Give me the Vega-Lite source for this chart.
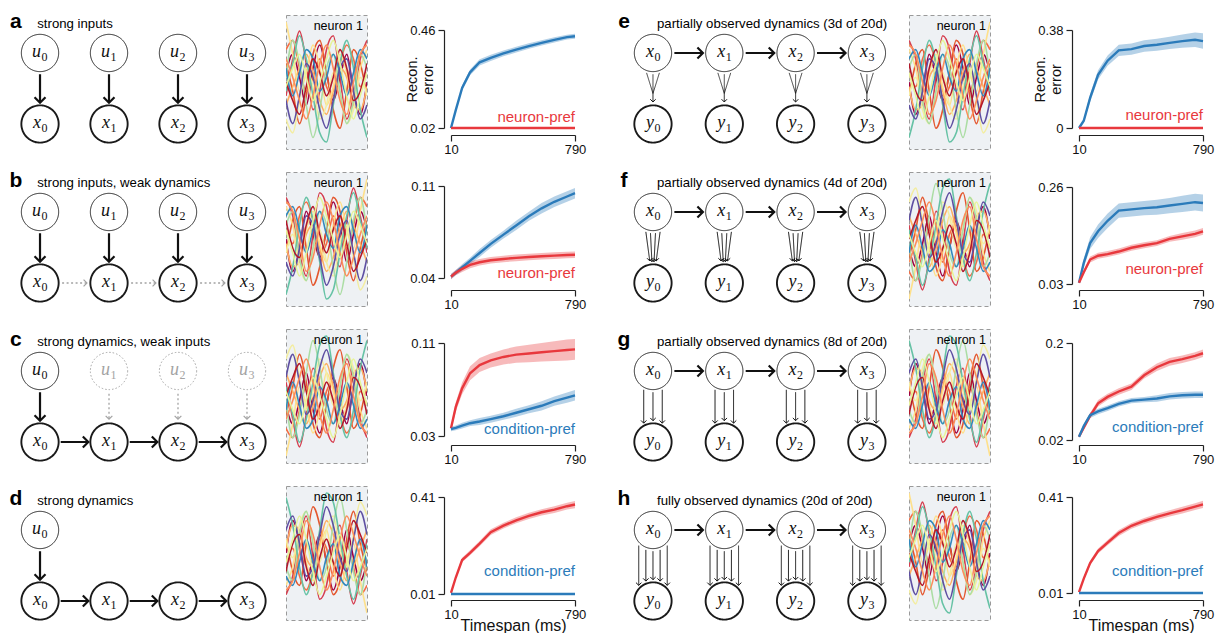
{
"$schema":"https://vega.github.io/schema/vega-lite/v6.json",
"padding":{"left":0,"top":11,"right":5,"bottom":0},
"spacing":14,
"resolve":{"scale":{"color":"independent","stroke":"independent","strokeWidth":"independent","strokeDash":"independent","size":"independent","shape":"independent"}},
"config":{"font":"Liberation Sans","view":{"stroke":null},"legend":{"disable":true},
"axis":{"grid":false,"domainColor":"#222","tickColor":"#222","labelColor":"#111","labelFontSize":13,"titleFontSize":14.5,"titleFontWeight":"normal","titleColor":"#111","tickSize":6,"domainWidth":1.2,"tickWidth":1.2,"labelPadding":2,"labelFlush":false},
"axisY":{"labelPadding":3,"titleLineHeight":16,"titlePadding":4}},
"datasets":{
"labels":[{"panel":"a","series":"neuron","label":"neuron-pref"},{"panel":"b","series":"neuron","label":"neuron-pref"},{"panel":"c","series":"cond","label":"condition-pref"},{"panel":"d","series":"cond","label":"condition-pref"},{"panel":"e","series":"neuron","label":"neuron-pref"},{"panel":"f","series":"neuron","label":"neuron-pref"},{"panel":"g","series":"cond","label":"condition-pref"},{"panel":"h","series":"cond","label":"condition-pref"}],
"curves":[
{"panel":"a","series":"cond","t":10,"m":0.02,"lo":0.017,"hi":0.023},{"panel":"a","series":"cond","t":40,"m":0.10,"lo":0.092,"hi":0.108},{"panel":"a","series":"cond","t":80,"m":0.20,"lo":0.188,"hi":0.212},{"panel":"a","series":"cond","t":130,"m":0.27,"lo":0.257,"hi":0.283},{"panel":"a","series":"cond","t":190,"m":0.315,"lo":0.301,"hi":0.329},{"panel":"a","series":"cond","t":260,"m":0.335,"lo":0.321,"hi":0.349},{"panel":"a","series":"cond","t":340,"m":0.355,"lo":0.342,"hi":0.368},{"panel":"a","series":"cond","t":420,"m":0.372,"lo":0.359,"hi":0.385},{"panel":"a","series":"cond","t":500,"m":0.388,"lo":0.376,"hi":0.4},{"panel":"a","series":"cond","t":580,"m":0.402,"lo":0.39,"hi":0.414},{"panel":"a","series":"cond","t":660,"m":0.416,"lo":0.404,"hi":0.428},{"panel":"a","series":"cond","t":740,"m":0.428,"lo":0.417,"hi":0.439},{"panel":"a","series":"cond","t":790,"m":0.432,"lo":0.421,"hi":0.443},
{"panel":"a","series":"neuron","t":10,"m":0.02,"lo":0.02,"hi":0.0215},{"panel":"a","series":"neuron","t":200,"m":0.02,"lo":0.02,"hi":0.0215},{"panel":"a","series":"neuron","t":400,"m":0.02,"lo":0.02,"hi":0.0215},{"panel":"a","series":"neuron","t":600,"m":0.02,"lo":0.02,"hi":0.0215},{"panel":"a","series":"neuron","t":790,"m":0.02,"lo":0.02,"hi":0.0215},
{"panel":"b","series":"cond","t":10,"m":0.041,"lo":0.039,"hi":0.043},{"panel":"b","series":"cond","t":40,"m":0.044,"lo":0.042,"hi":0.046},{"panel":"b","series":"cond","t":80,"m":0.048,"lo":0.0455,"hi":0.0505},{"panel":"b","series":"cond","t":130,"m":0.053,"lo":0.0505,"hi":0.0555},{"panel":"b","series":"cond","t":190,"m":0.059,"lo":0.056,"hi":0.062},{"panel":"b","series":"cond","t":260,"m":0.066,"lo":0.063,"hi":0.069},{"panel":"b","series":"cond","t":340,"m":0.073,"lo":0.07,"hi":0.076},{"panel":"b","series":"cond","t":420,"m":0.080,"lo":0.0765,"hi":0.0835},{"panel":"b","series":"cond","t":500,"m":0.087,"lo":0.0835,"hi":0.0905},{"panel":"b","series":"cond","t":580,"m":0.093,"lo":0.089,"hi":0.097},{"panel":"b","series":"cond","t":660,"m":0.098,"lo":0.094,"hi":0.102},{"panel":"b","series":"cond","t":740,"m":0.102,"lo":0.098,"hi":0.106},{"panel":"b","series":"cond","t":790,"m":0.1045,"lo":0.1005,"hi":0.1085},
{"panel":"b","series":"neuron","t":10,"m":0.041,"lo":0.039,"hi":0.043},{"panel":"b","series":"neuron","t":40,"m":0.044,"lo":0.042,"hi":0.046},{"panel":"b","series":"neuron","t":80,"m":0.047,"lo":0.0445,"hi":0.0495},{"panel":"b","series":"neuron","t":130,"m":0.050,"lo":0.0475,"hi":0.0525},{"panel":"b","series":"neuron","t":190,"m":0.052,"lo":0.0495,"hi":0.0545},{"panel":"b","series":"neuron","t":260,"m":0.0535,"lo":0.051,"hi":0.056},{"panel":"b","series":"neuron","t":340,"m":0.0545,"lo":0.052,"hi":0.057},{"panel":"b","series":"neuron","t":420,"m":0.0553,"lo":0.0528,"hi":0.0578},{"panel":"b","series":"neuron","t":500,"m":0.056,"lo":0.0535,"hi":0.0585},{"panel":"b","series":"neuron","t":580,"m":0.0565,"lo":0.054,"hi":0.059},{"panel":"b","series":"neuron","t":660,"m":0.057,"lo":0.0545,"hi":0.0595},{"panel":"b","series":"neuron","t":740,"m":0.0575,"lo":0.055,"hi":0.06},{"panel":"b","series":"neuron","t":790,"m":0.0577,"lo":0.0552,"hi":0.0602},
{"panel":"c","series":"neuron","t":10,"m":0.0366,"lo":0.0346,"hi":0.0386},{"panel":"c","series":"neuron","t":40,"m":0.055,"lo":0.051,"hi":0.059},{"panel":"c","series":"neuron","t":80,"m":0.071,"lo":0.066,"hi":0.076},{"panel":"c","series":"neuron","t":130,"m":0.084,"lo":0.078,"hi":0.09},{"panel":"c","series":"neuron","t":190,"m":0.091,"lo":0.085,"hi":0.097},{"panel":"c","series":"neuron","t":260,"m":0.095,"lo":0.089,"hi":0.101},{"panel":"c","series":"neuron","t":340,"m":0.098,"lo":0.0915,"hi":0.1045},{"panel":"c","series":"neuron","t":420,"m":0.100,"lo":0.093,"hi":0.107},{"panel":"c","series":"neuron","t":500,"m":0.101,"lo":0.0935,"hi":0.1085},{"panel":"c","series":"neuron","t":580,"m":0.102,"lo":0.094,"hi":0.11},{"panel":"c","series":"neuron","t":660,"m":0.103,"lo":0.0945,"hi":0.1115},{"panel":"c","series":"neuron","t":740,"m":0.104,"lo":0.095,"hi":0.113},{"panel":"c","series":"neuron","t":790,"m":0.1045,"lo":0.0955,"hi":0.1135},
{"panel":"c","series":"cond","t":10,"m":0.036,"lo":0.034,"hi":0.038},{"panel":"c","series":"cond","t":40,"m":0.037,"lo":0.035,"hi":0.039},{"panel":"c","series":"cond","t":80,"m":0.039,"lo":0.0365,"hi":0.0415},{"panel":"c","series":"cond","t":130,"m":0.041,"lo":0.0385,"hi":0.0435},{"panel":"c","series":"cond","t":190,"m":0.0425,"lo":0.0395,"hi":0.0455},{"panel":"c","series":"cond","t":260,"m":0.0445,"lo":0.0415,"hi":0.0475},{"panel":"c","series":"cond","t":340,"m":0.047,"lo":0.044,"hi":0.05},{"panel":"c","series":"cond","t":420,"m":0.050,"lo":0.0465,"hi":0.0535},{"panel":"c","series":"cond","t":500,"m":0.053,"lo":0.0495,"hi":0.0565},{"panel":"c","series":"cond","t":580,"m":0.056,"lo":0.052,"hi":0.06},{"panel":"c","series":"cond","t":660,"m":0.060,"lo":0.056,"hi":0.064},{"panel":"c","series":"cond","t":740,"m":0.063,"lo":0.0585,"hi":0.0675},{"panel":"c","series":"cond","t":790,"m":0.065,"lo":0.0605,"hi":0.0695},
{"panel":"d","series":"neuron","t":10,"m":0.015,"lo":0.012,"hi":0.018},{"panel":"d","series":"neuron","t":40,"m":0.078,"lo":0.071,"hi":0.085},{"panel":"d","series":"neuron","t":80,"m":0.15,"lo":0.141,"hi":0.159},{"panel":"d","series":"neuron","t":130,"m":0.18,"lo":0.17,"hi":0.19},{"panel":"d","series":"neuron","t":190,"m":0.218,"lo":0.207,"hi":0.229},{"panel":"d","series":"neuron","t":260,"m":0.265,"lo":0.253,"hi":0.277},{"panel":"d","series":"neuron","t":340,"m":0.292,"lo":0.28,"hi":0.304},{"panel":"d","series":"neuron","t":420,"m":0.314,"lo":0.302,"hi":0.326},{"panel":"d","series":"neuron","t":500,"m":0.332,"lo":0.319,"hi":0.345},{"panel":"d","series":"neuron","t":580,"m":0.347,"lo":0.334,"hi":0.36},{"panel":"d","series":"neuron","t":660,"m":0.358,"lo":0.344,"hi":0.372},{"panel":"d","series":"neuron","t":740,"m":0.372,"lo":0.358,"hi":0.386},{"panel":"d","series":"neuron","t":790,"m":0.379,"lo":0.364,"hi":0.394},
{"panel":"d","series":"cond","t":10,"m":0.01,"lo":0.01,"hi":0.0115},{"panel":"d","series":"cond","t":200,"m":0.01,"lo":0.01,"hi":0.0115},{"panel":"d","series":"cond","t":400,"m":0.01,"lo":0.01,"hi":0.0115},{"panel":"d","series":"cond","t":600,"m":0.01,"lo":0.01,"hi":0.0115},{"panel":"d","series":"cond","t":790,"m":0.01,"lo":0.01,"hi":0.0115},
{"panel":"e","series":"cond","t":10,"m":0,"lo":0,"hi":0.002},{"panel":"e","series":"cond","t":40,"m":0.028,"lo":0.02,"hi":0.036},{"panel":"e","series":"cond","t":80,"m":0.117,"lo":0.102,"hi":0.132},{"panel":"e","series":"cond","t":130,"m":0.206,"lo":0.188,"hi":0.224},{"panel":"e","series":"cond","t":190,"m":0.261,"lo":0.241,"hi":0.281},{"panel":"e","series":"cond","t":260,"m":0.301,"lo":0.279,"hi":0.323},{"panel":"e","series":"cond","t":340,"m":0.306,"lo":0.284,"hi":0.328},{"panel":"e","series":"cond","t":420,"m":0.318,"lo":0.296,"hi":0.34},{"panel":"e","series":"cond","t":500,"m":0.323,"lo":0.3,"hi":0.346},{"panel":"e","series":"cond","t":580,"m":0.33,"lo":0.306,"hi":0.354},{"panel":"e","series":"cond","t":660,"m":0.337,"lo":0.311,"hi":0.363},{"panel":"e","series":"cond","t":740,"m":0.342,"lo":0.314,"hi":0.37},{"panel":"e","series":"cond","t":790,"m":0.337,"lo":0.307,"hi":0.367},
{"panel":"e","series":"neuron","t":10,"m":0,"lo":0,"hi":0.0015},{"panel":"e","series":"neuron","t":200,"m":0,"lo":0,"hi":0.0015},{"panel":"e","series":"neuron","t":400,"m":0,"lo":0,"hi":0.0015},{"panel":"e","series":"neuron","t":600,"m":0,"lo":0,"hi":0.0015},{"panel":"e","series":"neuron","t":790,"m":0,"lo":0,"hi":0.0015},
{"panel":"f","series":"cond","t":10,"m":0.033,"lo":0.03,"hi":0.036},{"panel":"f","series":"cond","t":40,"m":0.08,"lo":0.07,"hi":0.09},{"panel":"f","series":"cond","t":80,"m":0.127,"lo":0.113,"hi":0.141},{"panel":"f","series":"cond","t":130,"m":0.155,"lo":0.139,"hi":0.171},{"panel":"f","series":"cond","t":190,"m":0.18,"lo":0.163,"hi":0.197},{"panel":"f","series":"cond","t":260,"m":0.204,"lo":0.187,"hi":0.221},{"panel":"f","series":"cond","t":340,"m":0.207,"lo":0.19,"hi":0.224},{"panel":"f","series":"cond","t":420,"m":0.21,"lo":0.193,"hi":0.227},{"panel":"f","series":"cond","t":500,"m":0.212,"lo":0.194,"hi":0.23},{"panel":"f","series":"cond","t":580,"m":0.216,"lo":0.198,"hi":0.234},{"panel":"f","series":"cond","t":660,"m":0.22,"lo":0.201,"hi":0.239},{"panel":"f","series":"cond","t":740,"m":0.224,"lo":0.204,"hi":0.244},{"panel":"f","series":"cond","t":790,"m":0.222,"lo":0.202,"hi":0.242},
{"panel":"f","series":"neuron","t":10,"m":0.033,"lo":0.031,"hi":0.035},{"panel":"f","series":"neuron","t":40,"m":0.058,"lo":0.053,"hi":0.063},{"panel":"f","series":"neuron","t":80,"m":0.088,"lo":0.081,"hi":0.095},{"panel":"f","series":"neuron","t":130,"m":0.097,"lo":0.09,"hi":0.104},{"panel":"f","series":"neuron","t":190,"m":0.101,"lo":0.094,"hi":0.108},{"panel":"f","series":"neuron","t":260,"m":0.107,"lo":0.1,"hi":0.114},{"panel":"f","series":"neuron","t":340,"m":0.116,"lo":0.109,"hi":0.123},{"panel":"f","series":"neuron","t":420,"m":0.122,"lo":0.115,"hi":0.129},{"panel":"f","series":"neuron","t":500,"m":0.127,"lo":0.12,"hi":0.134},{"panel":"f","series":"neuron","t":580,"m":0.137,"lo":0.13,"hi":0.144},{"panel":"f","series":"neuron","t":660,"m":0.143,"lo":0.135,"hi":0.151},{"panel":"f","series":"neuron","t":740,"m":0.149,"lo":0.141,"hi":0.157},{"panel":"f","series":"neuron","t":790,"m":0.155,"lo":0.147,"hi":0.163},
{"panel":"g","series":"neuron","t":10,"m":0.026,"lo":0.024,"hi":0.028},{"panel":"g","series":"neuron","t":40,"m":0.043,"lo":0.039,"hi":0.047},{"panel":"g","series":"neuron","t":80,"m":0.065,"lo":0.06,"hi":0.07},{"panel":"g","series":"neuron","t":130,"m":0.088,"lo":0.082,"hi":0.094},{"panel":"g","series":"neuron","t":190,"m":0.1,"lo":0.094,"hi":0.106},{"panel":"g","series":"neuron","t":260,"m":0.11,"lo":0.104,"hi":0.116},{"panel":"g","series":"neuron","t":340,"m":0.119,"lo":0.113,"hi":0.125},{"panel":"g","series":"neuron","t":420,"m":0.14,"lo":0.134,"hi":0.146},{"panel":"g","series":"neuron","t":500,"m":0.155,"lo":0.148,"hi":0.162},{"panel":"g","series":"neuron","t":580,"m":0.165,"lo":0.158,"hi":0.172},{"panel":"g","series":"neuron","t":660,"m":0.17,"lo":0.163,"hi":0.177},{"panel":"g","series":"neuron","t":740,"m":0.176,"lo":0.169,"hi":0.183},{"panel":"g","series":"neuron","t":790,"m":0.181,"lo":0.174,"hi":0.188},
{"panel":"g","series":"cond","t":10,"m":0.026,"lo":0.024,"hi":0.028},{"panel":"g","series":"cond","t":40,"m":0.046,"lo":0.042,"hi":0.05},{"panel":"g","series":"cond","t":80,"m":0.066,"lo":0.061,"hi":0.071},{"panel":"g","series":"cond","t":130,"m":0.073,"lo":0.068,"hi":0.078},{"panel":"g","series":"cond","t":190,"m":0.079,"lo":0.074,"hi":0.084},{"panel":"g","series":"cond","t":260,"m":0.087,"lo":0.082,"hi":0.092},{"panel":"g","series":"cond","t":340,"m":0.093,"lo":0.088,"hi":0.098},{"panel":"g","series":"cond","t":420,"m":0.095,"lo":0.09,"hi":0.1},{"panel":"g","series":"cond","t":500,"m":0.097,"lo":0.091,"hi":0.103},{"panel":"g","series":"cond","t":580,"m":0.101,"lo":0.095,"hi":0.107},{"panel":"g","series":"cond","t":660,"m":0.103,"lo":0.097,"hi":0.109},{"panel":"g","series":"cond","t":740,"m":0.104,"lo":0.098,"hi":0.11},{"panel":"g","series":"cond","t":790,"m":0.104,"lo":0.098,"hi":0.11},
{"panel":"h","series":"neuron","t":10,"m":0.014,"lo":0.011,"hi":0.017},{"panel":"h","series":"neuron","t":40,"m":0.07,"lo":0.063,"hi":0.077},{"panel":"h","series":"neuron","t":80,"m":0.135,"lo":0.126,"hi":0.144},{"panel":"h","series":"neuron","t":130,"m":0.185,"lo":0.175,"hi":0.195},{"panel":"h","series":"neuron","t":190,"m":0.22,"lo":0.209,"hi":0.231},{"panel":"h","series":"neuron","t":260,"m":0.26,"lo":0.248,"hi":0.272},{"panel":"h","series":"neuron","t":340,"m":0.29,"lo":0.278,"hi":0.302},{"panel":"h","series":"neuron","t":420,"m":0.31,"lo":0.298,"hi":0.322},{"panel":"h","series":"neuron","t":500,"m":0.327,"lo":0.314,"hi":0.34},{"panel":"h","series":"neuron","t":580,"m":0.342,"lo":0.329,"hi":0.355},{"panel":"h","series":"neuron","t":660,"m":0.355,"lo":0.341,"hi":0.369},{"panel":"h","series":"neuron","t":740,"m":0.37,"lo":0.356,"hi":0.384},{"panel":"h","series":"neuron","t":790,"m":0.379,"lo":0.364,"hi":0.394},
{"panel":"h","series":"cond","t":10,"m":0.01,"lo":0.01,"hi":0.0115},{"panel":"h","series":"cond","t":200,"m":0.01,"lo":0.01,"hi":0.0115},{"panel":"h","series":"cond","t":400,"m":0.01,"lo":0.01,"hi":0.0115},{"panel":"h","series":"cond","t":600,"m":0.01,"lo":0.01,"hi":0.0115},{"panel":"h","series":"cond","t":790,"m":0.01,"lo":0.01,"hi":0.0115}
],
"traces":[
{"tr":"T1","t":0,"v":0.2},{"tr":"T1","t":1,"v":0.6},{"tr":"T1","t":2,"v":0.1},{"tr":"T1","t":3,"v":-0.5},{"tr":"T1","t":4,"v":0.3},{"tr":"T1","t":5,"v":0.8},{"tr":"T1","t":6,"v":0.2},{"tr":"T1","t":7,"v":-0.4},{"tr":"T1","t":8,"v":0.1},{"tr":"T1","t":9,"v":0.6},{"tr":"T1","t":10,"v":-0.2},{"tr":"T1","t":11,"v":-0.7},{"tr":"T1","t":12,"v":0.0},
{"tr":"T2","t":0,"v":-0.3},{"tr":"T2","t":1,"v":0.5},{"tr":"T2","t":2,"v":1.1},{"tr":"T2","t":3,"v":0.4},{"tr":"T2","t":4,"v":-0.6},{"tr":"T2","t":5,"v":-0.2},{"tr":"T2","t":6,"v":0.7},{"tr":"T2","t":7,"v":1.0},{"tr":"T2","t":8,"v":0.1},{"tr":"T2","t":9,"v":-0.8},{"tr":"T2","t":10,"v":-0.3},{"tr":"T2","t":11,"v":0.5},{"tr":"T2","t":12,"v":0.9},
{"tr":"T3","t":0,"v":0.4},{"tr":"T3","t":1,"v":-0.2},{"tr":"T3","t":2,"v":-0.9},{"tr":"T3","t":3,"v":-0.3},{"tr":"T3","t":4,"v":0.6},{"tr":"T3","t":5,"v":0.9},{"tr":"T3","t":6,"v":0.2},{"tr":"T3","t":7,"v":-0.6},{"tr":"T3","t":8,"v":-1.0},{"tr":"T3","t":9,"v":-0.2},{"tr":"T3","t":10,"v":0.7},{"tr":"T3","t":11,"v":0.4},{"tr":"T3","t":12,"v":-0.3},
{"tr":"T4","t":0,"v":0.7},{"tr":"T4","t":1,"v":0.9},{"tr":"T4","t":2,"v":0.3},{"tr":"T4","t":3,"v":-0.2},{"tr":"T4","t":4,"v":0.1},{"tr":"T4","t":5,"v":0.5},{"tr":"T4","t":6,"v":-0.1},{"tr":"T4","t":7,"v":-0.3},{"tr":"T4","t":8,"v":0.4},{"tr":"T4","t":9,"v":0.8},{"tr":"T4","t":10,"v":0.5},{"tr":"T4","t":11,"v":-0.1},{"tr":"T4","t":12,"v":0.2},
{"tr":"T5","t":0,"v":-0.5},{"tr":"T5","t":1,"v":-0.1},{"tr":"T5","t":2,"v":0.3},{"tr":"T5","t":3,"v":0.6},{"tr":"T5","t":4,"v":0.2},{"tr":"T5","t":5,"v":-0.4},{"tr":"T5","t":6,"v":-0.7},{"tr":"T5","t":7,"v":-0.2},{"tr":"T5","t":8,"v":0.3},{"tr":"T5","t":9,"v":0.1},{"tr":"T5","t":10,"v":-0.5},{"tr":"T5","t":11,"v":-0.6},{"tr":"T5","t":12,"v":-0.1},
{"tr":"T6","t":0,"v":1.3},{"tr":"T6","t":1,"v":0.6},{"tr":"T6","t":2,"v":-0.2},{"tr":"T6","t":3,"v":0.2},{"tr":"T6","t":4,"v":0.8},{"tr":"T6","t":5,"v":0.3},{"tr":"T6","t":6,"v":-0.5},{"tr":"T6","t":7,"v":-0.1},{"tr":"T6","t":8,"v":0.6},{"tr":"T6","t":9,"v":0.2},{"tr":"T6","t":10,"v":-0.4},{"tr":"T6","t":11,"v":0.3},{"tr":"T6","t":12,"v":0.7},
{"tr":"T7","t":0,"v":-0.8},{"tr":"T7","t":1,"v":-1.1},{"tr":"T7","t":2,"v":-0.4},{"tr":"T7","t":3,"v":0.3},{"tr":"T7","t":4,"v":-0.1},{"tr":"T7","t":5,"v":-0.8},{"tr":"T7","t":6,"v":-0.5},{"tr":"T7","t":7,"v":0.2},{"tr":"T7","t":8,"v":-0.2},{"tr":"T7","t":9,"v":-0.9},{"tr":"T7","t":10,"v":-0.6},{"tr":"T7","t":11,"v":0.1},{"tr":"T7","t":12,"v":-0.3},
{"tr":"T8","t":0,"v":0.1},{"tr":"T8","t":1,"v":0.9},{"tr":"T8","t":2,"v":0.4},{"tr":"T8","t":3,"v":-0.5},{"tr":"T8","t":4,"v":-1.2},{"tr":"T8","t":5,"v":-0.6},{"tr":"T8","t":6,"v":0.3},{"tr":"T8","t":7,"v":0.6},{"tr":"T8","t":8,"v":-0.2},{"tr":"T8","t":9,"v":-0.9},{"tr":"T8","t":10,"v":-0.4},{"tr":"T8","t":11,"v":0.6},{"tr":"T8","t":12,"v":0.3},
{"tr":"T9","t":0,"v":-0.2},{"tr":"T9","t":1,"v":0.4},{"tr":"T9","t":2,"v":1.0},{"tr":"T9","t":3,"v":0.5},{"tr":"T9","t":4,"v":-0.3},{"tr":"T9","t":5,"v":-1.1},{"tr":"T9","t":6,"v":-1.3},{"tr":"T9","t":7,"v":-0.5},{"tr":"T9","t":8,"v":0.4},{"tr":"T9","t":9,"v":0.9},{"tr":"T9","t":10,"v":0.3},{"tr":"T9","t":11,"v":-0.6},{"tr":"T9","t":12,"v":-1.2},
{"tr":"T10","t":0,"v":0.3},{"tr":"T10","t":1,"v":-0.3},{"tr":"T10","t":2,"v":0.2},{"tr":"T10","t":3,"v":0.7},{"tr":"T10","t":4,"v":0.5},{"tr":"T10","t":5,"v":-0.2},{"tr":"T10","t":6,"v":0.1},{"tr":"T10","t":7,"v":0.6},{"tr":"T10","t":8,"v":0.2},{"tr":"T10","t":9,"v":-0.3},{"tr":"T10","t":10,"v":0.2},{"tr":"T10","t":11,"v":0.7},{"tr":"T10","t":12,"v":0.5},
{"tr":"T11","t":0,"v":-0.4},{"tr":"T11","t":1,"v":-0.9},{"tr":"T11","t":2,"v":-0.3},{"tr":"T11","t":3,"v":0.4},{"tr":"T11","t":4,"v":0.1},{"tr":"T11","t":5,"v":-0.6},{"tr":"T11","t":6,"v":-1.0},{"tr":"T11","t":7,"v":-0.4},{"tr":"T11","t":8,"v":0.3},{"tr":"T11","t":9,"v":0.5},{"tr":"T11","t":10,"v":-0.2},{"tr":"T11","t":11,"v":-0.8},{"tr":"T11","t":12,"v":-0.5},
{"tr":"T12","t":0,"v":0.0},{"tr":"T12","t":1,"v":-0.4},{"tr":"T12","t":2,"v":-0.7},{"tr":"T12","t":3,"v":-0.1},{"tr":"T12","t":4,"v":0.5},{"tr":"T12","t":5,"v":0.2},{"tr":"T12","t":6,"v":-0.3},{"tr":"T12","t":7,"v":0.1},{"tr":"T12","t":8,"v":0.7},{"tr":"T12","t":9,"v":0.3},{"tr":"T12","t":10,"v":-0.4},{"tr":"T12","t":11,"v":-0.2},{"tr":"T12","t":12,"v":0.4},
{"tr":"T13","t":0,"v":0.5},{"tr":"T13","t":1,"v":0.1},{"tr":"T13","t":2,"v":-0.4},{"tr":"T13","t":3,"v":-0.8},{"tr":"T13","t":4,"v":-0.3},{"tr":"T13","t":5,"v":0.4},{"tr":"T13","t":6,"v":0.8},{"tr":"T13","t":7,"v":0.3},{"tr":"T13","t":8,"v":-0.4},{"tr":"T13","t":9,"v":-0.7},{"tr":"T13","t":10,"v":0.0},{"tr":"T13","t":11,"v":0.6},{"tr":"T13","t":12,"v":0.8},
{"tr":"T14","t":0,"v":-0.1},{"tr":"T14","t":1,"v":0.3},{"tr":"T14","t":2,"v":0.6},{"tr":"T14","t":3,"v":0.1},{"tr":"T14","t":4,"v":-0.4},{"tr":"T14","t":5,"v":0.0},{"tr":"T14","t":6,"v":0.5},{"tr":"T14","t":7,"v":0.9},{"tr":"T14","t":8,"v":0.4},{"tr":"T14","t":9,"v":-0.3},{"tr":"T14","t":10,"v":-0.8},{"tr":"T14","t":11,"v":-0.3},{"tr":"T14","t":12,"v":0.2}
],
"diagram":[
{"panel":"a","type":"title","letter":"a","title":"strong inputs"},
{"panel":"a","type":"node","col":0,"lev":0,"sym":"u","kind":"thin"},{"panel":"a","type":"node","col":1,"lev":0,"sym":"u","kind":"thin"},{"panel":"a","type":"node","col":2,"lev":0,"sym":"u","kind":"thin"},{"panel":"a","type":"node","col":3,"lev":0,"sym":"u","kind":"thin"},
{"panel":"a","type":"node","col":0,"lev":1,"sym":"x","kind":"thick"},{"panel":"a","type":"node","col":1,"lev":1,"sym":"x","kind":"thick"},{"panel":"a","type":"node","col":2,"lev":1,"sym":"x","kind":"thick"},{"panel":"a","type":"node","col":3,"lev":1,"sym":"x","kind":"thick"},
{"panel":"a","type":"edge","x":0,"y":0.3,"x2":0,"y2":0.7,"kind":"strong","head":"down"},{"panel":"a","type":"edge","x":1,"y":0.3,"x2":1,"y2":0.7,"kind":"strong","head":"down"},{"panel":"a","type":"edge","x":2,"y":0.3,"x2":2,"y2":0.7,"kind":"strong","head":"down"},{"panel":"a","type":"edge","x":3,"y":0.3,"x2":3,"y2":0.7,"kind":"strong","head":"down"},
{"panel":"b","type":"title","letter":"b","title":"strong inputs, weak dynamics"},
{"panel":"b","type":"node","col":0,"lev":0,"sym":"u","kind":"thin"},{"panel":"b","type":"node","col":1,"lev":0,"sym":"u","kind":"thin"},{"panel":"b","type":"node","col":2,"lev":0,"sym":"u","kind":"thin"},{"panel":"b","type":"node","col":3,"lev":0,"sym":"u","kind":"thin"},
{"panel":"b","type":"node","col":0,"lev":1,"sym":"x","kind":"thick"},{"panel":"b","type":"node","col":1,"lev":1,"sym":"x","kind":"thick"},{"panel":"b","type":"node","col":2,"lev":1,"sym":"x","kind":"thick"},{"panel":"b","type":"node","col":3,"lev":1,"sym":"x","kind":"thick"},
{"panel":"b","type":"edge","x":0,"y":0.3,"x2":0,"y2":0.7,"kind":"strong","head":"down"},{"panel":"b","type":"edge","x":1,"y":0.3,"x2":1,"y2":0.7,"kind":"strong","head":"down"},{"panel":"b","type":"edge","x":2,"y":0.3,"x2":2,"y2":0.7,"kind":"strong","head":"down"},{"panel":"b","type":"edge","x":3,"y":0.3,"x2":3,"y2":0.7,"kind":"strong","head":"down"},
{"panel":"b","type":"edge","x":0.32,"y":1,"x2":0.68,"y2":1,"kind":"weak","head":"right"},{"panel":"b","type":"edge","x":1.32,"y":1,"x2":1.68,"y2":1,"kind":"weak","head":"right"},{"panel":"b","type":"edge","x":2.32,"y":1,"x2":2.68,"y2":1,"kind":"weak","head":"right"},
{"panel":"c","type":"title","letter":"c","title":"strong dynamics, weak inputs"},
{"panel":"c","type":"node","col":0,"lev":0,"sym":"u","kind":"thin"},{"panel":"c","type":"node","col":1,"lev":0,"sym":"u","kind":"weak"},{"panel":"c","type":"node","col":2,"lev":0,"sym":"u","kind":"weak"},{"panel":"c","type":"node","col":3,"lev":0,"sym":"u","kind":"weak"},
{"panel":"c","type":"node","col":0,"lev":1,"sym":"x","kind":"thick"},{"panel":"c","type":"node","col":1,"lev":1,"sym":"x","kind":"thick"},{"panel":"c","type":"node","col":2,"lev":1,"sym":"x","kind":"thick"},{"panel":"c","type":"node","col":3,"lev":1,"sym":"x","kind":"thick"},
{"panel":"c","type":"edge","x":0,"y":0.3,"x2":0,"y2":0.7,"kind":"strong","head":"down"},{"panel":"c","type":"edge","x":1,"y":0.32,"x2":1,"y2":0.68,"kind":"weak","head":"down"},{"panel":"c","type":"edge","x":2,"y":0.32,"x2":2,"y2":0.68,"kind":"weak","head":"down"},{"panel":"c","type":"edge","x":3,"y":0.32,"x2":3,"y2":0.68,"kind":"weak","head":"down"},
{"panel":"c","type":"edge","x":0.3,"y":1,"x2":0.7,"y2":1,"kind":"strong","head":"right"},{"panel":"c","type":"edge","x":1.3,"y":1,"x2":1.7,"y2":1,"kind":"strong","head":"right"},{"panel":"c","type":"edge","x":2.3,"y":1,"x2":2.7,"y2":1,"kind":"strong","head":"right"},
{"panel":"d","type":"title","letter":"d","title":"strong dynamics"},
{"panel":"d","type":"node","col":0,"lev":0,"sym":"u","kind":"thin"},
{"panel":"d","type":"node","col":0,"lev":1,"sym":"x","kind":"thick"},{"panel":"d","type":"node","col":1,"lev":1,"sym":"x","kind":"thick"},{"panel":"d","type":"node","col":2,"lev":1,"sym":"x","kind":"thick"},{"panel":"d","type":"node","col":3,"lev":1,"sym":"x","kind":"thick"},
{"panel":"d","type":"edge","x":0,"y":0.3,"x2":0,"y2":0.7,"kind":"strong","head":"down"},
{"panel":"d","type":"edge","x":0.3,"y":1,"x2":0.7,"y2":1,"kind":"strong","head":"right"},{"panel":"d","type":"edge","x":1.3,"y":1,"x2":1.7,"y2":1,"kind":"strong","head":"right"},{"panel":"d","type":"edge","x":2.3,"y":1,"x2":2.7,"y2":1,"kind":"strong","head":"right"},
{"panel":"e","type":"title","letter":"e","title":"partially observed dynamics (3d of 20d)"},
{"panel":"e","type":"node","col":0,"lev":0,"sym":"x","kind":"thin"},{"panel":"e","type":"node","col":1,"lev":0,"sym":"x","kind":"thin"},{"panel":"e","type":"node","col":2,"lev":0,"sym":"x","kind":"thin"},{"panel":"e","type":"node","col":3,"lev":0,"sym":"x","kind":"thin"},
{"panel":"e","type":"node","col":0,"lev":1,"sym":"y","kind":"thick"},{"panel":"e","type":"node","col":1,"lev":1,"sym":"y","kind":"thick"},{"panel":"e","type":"node","col":2,"lev":1,"sym":"y","kind":"thick"},{"panel":"e","type":"node","col":3,"lev":1,"sym":"y","kind":"thick"},
{"panel":"e","type":"edge","x":0.3,"y":0,"x2":0.7,"y2":0,"kind":"strong","head":"right"},{"panel":"e","type":"edge","x":1.3,"y":0,"x2":1.7,"y2":0,"kind":"strong","head":"right"},{"panel":"e","type":"edge","x":2.3,"y":0,"x2":2.7,"y2":0,"kind":"strong","head":"right"},
{"panel":"e","type":"edge","x":-0.09,"y":0.28,"x2":0,"y2":0.57,"kind":"fan","head":"none"},{"panel":"e","type":"edge","x":0,"y":0.3,"x2":0,"y2":0.57,"kind":"fan","head":"none"},{"panel":"e","type":"edge","x":0.09,"y":0.28,"x2":0,"y2":0.57,"kind":"fan","head":"none"},{"panel":"e","type":"edge","x":0,"y":0.57,"x2":0,"y2":0.69,"kind":"proj","head":"down"},
{"panel":"e","type":"edge","x":0.91,"y":0.28,"x2":1,"y2":0.57,"kind":"fan","head":"none"},{"panel":"e","type":"edge","x":1,"y":0.3,"x2":1,"y2":0.57,"kind":"fan","head":"none"},{"panel":"e","type":"edge","x":1.09,"y":0.28,"x2":1,"y2":0.57,"kind":"fan","head":"none"},{"panel":"e","type":"edge","x":1,"y":0.57,"x2":1,"y2":0.69,"kind":"proj","head":"down"},
{"panel":"e","type":"edge","x":1.91,"y":0.28,"x2":2,"y2":0.57,"kind":"fan","head":"none"},{"panel":"e","type":"edge","x":2,"y":0.3,"x2":2,"y2":0.57,"kind":"fan","head":"none"},{"panel":"e","type":"edge","x":2.09,"y":0.28,"x2":2,"y2":0.57,"kind":"fan","head":"none"},{"panel":"e","type":"edge","x":2,"y":0.57,"x2":2,"y2":0.69,"kind":"proj","head":"down"},
{"panel":"e","type":"edge","x":2.91,"y":0.28,"x2":3,"y2":0.57,"kind":"fan","head":"none"},{"panel":"e","type":"edge","x":3,"y":0.3,"x2":3,"y2":0.57,"kind":"fan","head":"none"},{"panel":"e","type":"edge","x":3.09,"y":0.28,"x2":3,"y2":0.57,"kind":"fan","head":"none"},{"panel":"e","type":"edge","x":3,"y":0.57,"x2":3,"y2":0.69,"kind":"proj","head":"down"},
{"panel":"f","type":"title","letter":"f","title":"partially observed dynamics (4d of 20d)"},
{"panel":"f","type":"node","col":0,"lev":0,"sym":"x","kind":"thin"},{"panel":"f","type":"node","col":1,"lev":0,"sym":"x","kind":"thin"},{"panel":"f","type":"node","col":2,"lev":0,"sym":"x","kind":"thin"},{"panel":"f","type":"node","col":3,"lev":0,"sym":"x","kind":"thin"},
{"panel":"f","type":"node","col":0,"lev":1,"sym":"y","kind":"thick"},{"panel":"f","type":"node","col":1,"lev":1,"sym":"y","kind":"thick"},{"panel":"f","type":"node","col":2,"lev":1,"sym":"y","kind":"thick"},{"panel":"f","type":"node","col":3,"lev":1,"sym":"y","kind":"thick"},
{"panel":"f","type":"edge","x":0.3,"y":0,"x2":0.7,"y2":0,"kind":"strong","head":"right"},{"panel":"f","type":"edge","x":1.3,"y":0,"x2":1.7,"y2":0,"kind":"strong","head":"right"},{"panel":"f","type":"edge","x":2.3,"y":0,"x2":2.7,"y2":0,"kind":"strong","head":"right"},
{"panel":"f","type":"edge","x":-0.1,"y":0.28,"x2":-0.045,"y2":0.69,"kind":"proj","head":"down"},{"panel":"f","type":"edge","x":-0.035,"y":0.3,"x2":-0.015,"y2":0.7,"kind":"proj","head":"down"},{"panel":"f","type":"edge","x":0.035,"y":0.3,"x2":0.015,"y2":0.7,"kind":"proj","head":"down"},{"panel":"f","type":"edge","x":0.1,"y":0.28,"x2":0.045,"y2":0.69,"kind":"proj","head":"down"},
{"panel":"f","type":"edge","x":0.9,"y":0.28,"x2":0.955,"y2":0.69,"kind":"proj","head":"down"},{"panel":"f","type":"edge","x":0.965,"y":0.3,"x2":0.985,"y2":0.7,"kind":"proj","head":"down"},{"panel":"f","type":"edge","x":1.035,"y":0.3,"x2":1.015,"y2":0.7,"kind":"proj","head":"down"},{"panel":"f","type":"edge","x":1.1,"y":0.28,"x2":1.045,"y2":0.69,"kind":"proj","head":"down"},
{"panel":"f","type":"edge","x":1.9,"y":0.28,"x2":1.955,"y2":0.69,"kind":"proj","head":"down"},{"panel":"f","type":"edge","x":1.965,"y":0.3,"x2":1.985,"y2":0.7,"kind":"proj","head":"down"},{"panel":"f","type":"edge","x":2.035,"y":0.3,"x2":2.015,"y2":0.7,"kind":"proj","head":"down"},{"panel":"f","type":"edge","x":2.1,"y":0.28,"x2":2.045,"y2":0.69,"kind":"proj","head":"down"},
{"panel":"f","type":"edge","x":2.9,"y":0.28,"x2":2.955,"y2":0.69,"kind":"proj","head":"down"},{"panel":"f","type":"edge","x":2.965,"y":0.3,"x2":2.985,"y2":0.7,"kind":"proj","head":"down"},{"panel":"f","type":"edge","x":3.035,"y":0.3,"x2":3.015,"y2":0.7,"kind":"proj","head":"down"},{"panel":"f","type":"edge","x":3.1,"y":0.28,"x2":3.045,"y2":0.69,"kind":"proj","head":"down"},
{"panel":"g","type":"title","letter":"g","title":"partially observed dynamics (8d of 20d)"},
{"panel":"g","type":"node","col":0,"lev":0,"sym":"x","kind":"thin"},{"panel":"g","type":"node","col":1,"lev":0,"sym":"x","kind":"thin"},{"panel":"g","type":"node","col":2,"lev":0,"sym":"x","kind":"thin"},{"panel":"g","type":"node","col":3,"lev":0,"sym":"x","kind":"thin"},
{"panel":"g","type":"node","col":0,"lev":1,"sym":"y","kind":"thick"},{"panel":"g","type":"node","col":1,"lev":1,"sym":"y","kind":"thick"},{"panel":"g","type":"node","col":2,"lev":1,"sym":"y","kind":"thick"},{"panel":"g","type":"node","col":3,"lev":1,"sym":"y","kind":"thick"},
{"panel":"g","type":"edge","x":0.3,"y":0,"x2":0.7,"y2":0,"kind":"strong","head":"right"},{"panel":"g","type":"edge","x":1.3,"y":0,"x2":1.7,"y2":0,"kind":"strong","head":"right"},{"panel":"g","type":"edge","x":2.3,"y":0,"x2":2.7,"y2":0,"kind":"strong","head":"right"},
{"panel":"g","type":"edge","x":-0.13,"y":0.265,"x2":-0.13,"y2":0.735,"kind":"proj","head":"down"},{"panel":"g","type":"edge","x":0,"y":0.3,"x2":0,"y2":0.7,"kind":"proj","head":"down"},{"panel":"g","type":"edge","x":0.13,"y":0.265,"x2":0.13,"y2":0.735,"kind":"proj","head":"down"},
{"panel":"g","type":"edge","x":0.87,"y":0.265,"x2":0.87,"y2":0.735,"kind":"proj","head":"down"},{"panel":"g","type":"edge","x":1,"y":0.3,"x2":1,"y2":0.7,"kind":"proj","head":"down"},{"panel":"g","type":"edge","x":1.13,"y":0.265,"x2":1.13,"y2":0.735,"kind":"proj","head":"down"},
{"panel":"g","type":"edge","x":1.87,"y":0.265,"x2":1.87,"y2":0.735,"kind":"proj","head":"down"},{"panel":"g","type":"edge","x":2,"y":0.3,"x2":2,"y2":0.7,"kind":"proj","head":"down"},{"panel":"g","type":"edge","x":2.13,"y":0.265,"x2":2.13,"y2":0.735,"kind":"proj","head":"down"},
{"panel":"g","type":"edge","x":2.87,"y":0.265,"x2":2.87,"y2":0.735,"kind":"proj","head":"down"},{"panel":"g","type":"edge","x":3,"y":0.3,"x2":3,"y2":0.7,"kind":"proj","head":"down"},{"panel":"g","type":"edge","x":3.13,"y":0.265,"x2":3.13,"y2":0.735,"kind":"proj","head":"down"},
{"panel":"h","type":"title","letter":"h","title":"fully observed dynamics (20d of 20d)"},
{"panel":"h","type":"node","col":0,"lev":0,"sym":"x","kind":"thin"},{"panel":"h","type":"node","col":1,"lev":0,"sym":"x","kind":"thin"},{"panel":"h","type":"node","col":2,"lev":0,"sym":"x","kind":"thin"},{"panel":"h","type":"node","col":3,"lev":0,"sym":"x","kind":"thin"},
{"panel":"h","type":"node","col":0,"lev":1,"sym":"y","kind":"thick"},{"panel":"h","type":"node","col":1,"lev":1,"sym":"y","kind":"thick"},{"panel":"h","type":"node","col":2,"lev":1,"sym":"y","kind":"thick"},{"panel":"h","type":"node","col":3,"lev":1,"sym":"y","kind":"thick"},
{"panel":"h","type":"edge","x":0.3,"y":0,"x2":0.7,"y2":0,"kind":"strong","head":"right"},{"panel":"h","type":"edge","x":1.3,"y":0,"x2":1.7,"y2":0,"kind":"strong","head":"right"},{"panel":"h","type":"edge","x":2.3,"y":0,"x2":2.7,"y2":0,"kind":"strong","head":"right"},
{"panel":"h","type":"edge","x":-0.2,"y":0.22,"x2":-0.2,"y2":0.78,"kind":"proj","head":"down"},{"panel":"h","type":"edge","x":-0.1,"y":0.28,"x2":-0.1,"y2":0.72,"kind":"proj","head":"down"},{"panel":"h","type":"edge","x":0,"y":0.3,"x2":0,"y2":0.7,"kind":"proj","head":"down"},{"panel":"h","type":"edge","x":0.1,"y":0.28,"x2":0.1,"y2":0.72,"kind":"proj","head":"down"},{"panel":"h","type":"edge","x":0.2,"y":0.22,"x2":0.2,"y2":0.78,"kind":"proj","head":"down"},
{"panel":"h","type":"edge","x":0.8,"y":0.22,"x2":0.8,"y2":0.78,"kind":"proj","head":"down"},{"panel":"h","type":"edge","x":0.9,"y":0.28,"x2":0.9,"y2":0.72,"kind":"proj","head":"down"},{"panel":"h","type":"edge","x":1,"y":0.3,"x2":1,"y2":0.7,"kind":"proj","head":"down"},{"panel":"h","type":"edge","x":1.1,"y":0.28,"x2":1.1,"y2":0.72,"kind":"proj","head":"down"},{"panel":"h","type":"edge","x":1.2,"y":0.22,"x2":1.2,"y2":0.78,"kind":"proj","head":"down"},
{"panel":"h","type":"edge","x":1.8,"y":0.22,"x2":1.8,"y2":0.78,"kind":"proj","head":"down"},{"panel":"h","type":"edge","x":1.9,"y":0.28,"x2":1.9,"y2":0.72,"kind":"proj","head":"down"},{"panel":"h","type":"edge","x":2,"y":0.3,"x2":2,"y2":0.7,"kind":"proj","head":"down"},{"panel":"h","type":"edge","x":2.1,"y":0.28,"x2":2.1,"y2":0.72,"kind":"proj","head":"down"},{"panel":"h","type":"edge","x":2.2,"y":0.22,"x2":2.2,"y2":0.78,"kind":"proj","head":"down"},
{"panel":"h","type":"edge","x":2.8,"y":0.22,"x2":2.8,"y2":0.78,"kind":"proj","head":"down"},{"panel":"h","type":"edge","x":2.9,"y":0.28,"x2":2.9,"y2":0.72,"kind":"proj","head":"down"},{"panel":"h","type":"edge","x":3,"y":0.3,"x2":3,"y2":0.7,"kind":"proj","head":"down"},{"panel":"h","type":"edge","x":3.1,"y":0.28,"x2":3.1,"y2":0.72,"kind":"proj","head":"down"},{"panel":"h","type":"edge","x":3.2,"y":0.22,"x2":3.2,"y2":0.78,"kind":"proj","head":"down"}
]},
"hconcat":[
{"resolve":{"scale":{"color":"independent","stroke":"independent","strokeWidth":"independent","strokeDash":"independent","size":"independent","shape":"independent"}},"spacing":36,"hconcat":[
{"resolve":{"scale":{"color":"independent","stroke":"independent","strokeWidth":"independent","strokeDash":"independent","size":"independent","shape":"independent"}},"spacing":14,"hconcat":[
{"data":{"name":"diagram"},"transform":[{"filter":"datum.panel < 'e'"}],
 "facet":{"row":{"field":"panel","type":"nominal","header":null}},"spacing":15,
 "spec":{"width":271,"height":140,"layer":[
  {"transform":[{"filter":"datum.type=='edge'"}],"mark":{"type":"rule"},"encoding":{
   "x":{"field":"x","type":"quantitative","scale":{"domain":[-0.58,3.348],"nice":false,"zero":false},"axis":null},
   "y":{"field":"y","type":"quantitative","scale":{"domain":[-0.535,1.437],"reverse":true,"nice":false,"zero":false},"axis":null},
   "x2":{"field":"x2"},"y2":{"field":"y2"},
   "color":{"condition":{"test":"datum.kind=='weak'","value":"#a3a3a3"},"value":"#111111"},
   "strokeWidth":{"condition":[{"test":"datum.kind=='strong'","value":2.2},{"test":"datum.kind=='weak'","value":1.3},{"test":"datum.kind=='fan'","value":0.8}],"value":1},
   "strokeDash":{"condition":{"test":"datum.kind=='weak'","value":[2,2.5]},"value":[1,0]}}},
  {"transform":[{"filter":"datum.type=='edge' && datum.head!='none'"}],"mark":{"type":"point","filled":false,"opacity":1},"encoding":{
   "x":{"field":"x2","type":"quantitative"},
   "y":{"field":"y2","type":"quantitative"},
   "shape":{"condition":{"test":"datum.head=='right'","value":"M-1,-1L0,0L-1,1"},"value":"M-1,-1L0,0L1,-1"},
   "stroke":{"condition":{"test":"datum.kind=='weak'","value":"#a3a3a3"},"value":"#111111"},
   "strokeWidth":{"condition":[{"test":"datum.kind=='strong'","value":2.2},{"test":"datum.kind=='weak'","value":1.2}],"value":1},
   "size":{"condition":[{"test":"datum.kind=='strong'","value":120},{"test":"datum.kind=='weak'","value":45}],"value":30}}},
  {"transform":[{"filter":"datum.type=='node'"}],"mark":{"type":"point","shape":"circle","size":1390,"filled":true,"fill":"white","opacity":1},"encoding":{
   "x":{"field":"col","type":"quantitative"},
   "y":{"field":"lev","type":"quantitative"},
   "stroke":{"condition":{"test":"datum.kind=='weak'","value":"#a3a3a3"},"value":"#1a1a1a"},
   "strokeWidth":{"condition":{"test":"datum.kind=='thick'","value":1.9},"value":1},
   "strokeDash":{"condition":{"test":"datum.kind=='weak'","value":[1.5,2]},"value":[1,0]}}},
  {"transform":[{"filter":"datum.type=='node'"}],"mark":{"type":"text","font":"Liberation Serif","fontStyle":"italic","fontSize":18,"align":"right","baseline":"middle","dx":1,"dy":-1},"encoding":{
   "x":{"field":"col","type":"quantitative"},"y":{"field":"lev","type":"quantitative"},"text":{"field":"sym"},"color":{"condition":{"test":"datum.kind=='weak'","value":"#a3a3a3"},"value":"#111111"}}},
  {"transform":[{"filter":"datum.type=='node'"}],"mark":{"type":"text","font":"Liberation Serif","fontSize":12,"align":"left","baseline":"middle","dx":1.5,"dy":4},"encoding":{
   "x":{"field":"col","type":"quantitative"},"y":{"field":"lev","type":"quantitative"},"text":{"field":"col","type":"nominal"},"color":{"condition":{"test":"datum.kind=='weak'","value":"#a3a3a3"},"value":"#111111"}}},
  {"transform":[{"filter":"datum.type=='title'"}],"mark":{"type":"text","fontSize":21,"fontWeight":"bold","align":"center","baseline":"alphabetic"},"encoding":{
   "x":{"datum":-0.35},"y":{"datum":-0.35},"text":{"field":"letter"}}},
  {"transform":[{"filter":"datum.type=='title'"}],"mark":{"type":"text","fontSize":13.2,"align":"left","baseline":"alphabetic"},"encoding":{
   "x":{"datum":-0.04},"y":{"datum":-0.35},"text":{"field":"title"}}}
 ]}},
{"vconcat":[
 {"width":81,"height":134,"view":{"fill":"#eef1f4","stroke":"#9a9a9a","strokeDash":[4,3],"strokeWidth":1},"layer":[
  {"data":{"name":"traces"},"mark":{"type":"line","interpolate":"monotone","strokeWidth":1.6,"clip":true},"encoding":{"x":{"field":"t","type":"quantitative","axis":null,"scale":{"domain":[0,12],"nice":false}},"y":{"field":"v","type":"quantitative","axis":null,"scale":{"domain":[-1.45,1.45],"nice":false}},"color":{"field":"tr","type":"nominal","scale":{"domain":["T1","T2","T3","T4","T5","T6","T7","T8","T9","T10","T11","T12","T13","T14"],"range":["#9e0142","#d53e4f","#e4572e","#f46d43","#fdae61","#fee08b","#f3eda0","#abdda4","#66c2a5","#3288bd","#5e4fa2","#b2182b","#fc8d59","#e6f598"]}}}},
  {"data":{"values":[{"label":"neuron 1"}]},"mark":{"type":"text","align":"right","baseline":"top","fontSize":12.5,"dx":-4,"dy":5},"encoding":{"x":{"datum":12},"y":{"datum":1.45},"text":{"field":"label"}}}]},
 {"width":81,"height":134,"view":{"fill":"#eef1f4","stroke":"#9a9a9a","strokeDash":[4,3],"strokeWidth":1},"layer":[
  {"data":{"name":"traces"},"mark":{"type":"line","interpolate":"monotone","strokeWidth":1.6,"clip":true},"encoding":{"x":{"field":"t","type":"quantitative","axis":null,"scale":{"domain":[0,12],"nice":false,"reverse":true}},"y":{"field":"v","type":"quantitative","axis":null,"scale":{"domain":[-1.45,1.45],"nice":false}},"color":{"field":"tr","type":"nominal","scale":{"domain":["T1","T2","T3","T4","T5","T6","T7","T8","T9","T10","T11","T12","T13","T14"],"range":["#9e0142","#d53e4f","#e4572e","#f46d43","#fdae61","#fee08b","#f3eda0","#abdda4","#66c2a5","#3288bd","#5e4fa2","#b2182b","#fc8d59","#e6f598"]}}}},
  {"data":{"values":[{"label":"neuron 1"}]},"mark":{"type":"text","align":"right","baseline":"top","fontSize":12.5,"dx":-4,"dy":5},"encoding":{"x":{"datum":0},"y":{"datum":1.45},"text":{"field":"label"}}}]},
 {"width":81,"height":134,"view":{"fill":"#eef1f4","stroke":"#9a9a9a","strokeDash":[4,3],"strokeWidth":1},"layer":[
  {"data":{"name":"traces"},"mark":{"type":"line","interpolate":"monotone","strokeWidth":1.6,"clip":true},"encoding":{"x":{"field":"t","type":"quantitative","axis":null,"scale":{"domain":[0,12],"nice":false}},"y":{"field":"v","type":"quantitative","axis":null,"scale":{"domain":[-1.45,1.45],"nice":false,"reverse":true}},"color":{"field":"tr","type":"nominal","scale":{"domain":["T1","T2","T3","T4","T5","T6","T7","T8","T9","T10","T11","T12","T13","T14"],"range":["#9e0142","#d53e4f","#e4572e","#f46d43","#fdae61","#fee08b","#f3eda0","#abdda4","#66c2a5","#3288bd","#5e4fa2","#b2182b","#fc8d59","#e6f598"]}}}},
  {"data":{"values":[{"label":"neuron 1"}]},"mark":{"type":"text","align":"right","baseline":"top","fontSize":12.5,"dx":-4,"dy":5},"encoding":{"x":{"datum":12},"y":{"datum":-1.45},"text":{"field":"label"}}}]},
 {"width":81,"height":134,"view":{"fill":"#eef1f4","stroke":"#9a9a9a","strokeDash":[4,3],"strokeWidth":1},"layer":[
  {"data":{"name":"traces"},"mark":{"type":"line","interpolate":"monotone","strokeWidth":1.6,"clip":true},"encoding":{"x":{"field":"t","type":"quantitative","axis":null,"scale":{"domain":[0,12],"nice":false,"reverse":true}},"y":{"field":"v","type":"quantitative","axis":null,"scale":{"domain":[-1.45,1.45],"nice":false,"reverse":true}},"color":{"field":"tr","type":"nominal","scale":{"domain":["T1","T2","T3","T4","T5","T6","T7","T8","T9","T10","T11","T12","T13","T14"],"range":["#9e0142","#d53e4f","#e4572e","#f46d43","#fdae61","#fee08b","#f3eda0","#abdda4","#66c2a5","#3288bd","#5e4fa2","#b2182b","#fc8d59","#e6f598"]}}}},
  {"data":{"values":[{"label":"neuron 1"}]},"mark":{"type":"text","align":"right","baseline":"top","fontSize":12.5,"dx":-4,"dy":5},"encoding":{"x":{"datum":0},"y":{"datum":-1.45},"text":{"field":"label"}}}]}
],"spacing":21}
]},
{"vconcat":[
 {"width":124,"height":113,"layer":[
  {"data":{"name":"curves"},"transform":[{"filter":"datum.panel=='a'"}],"mark":{"type":"area","opacity":0.35},"encoding":{"x":{"field":"t","type":"quantitative","scale":{"domain":[10,790],"nice":false},"axis":{"values":[10,790],"offset":7,"title":null}},"y":{"field":"lo","type":"quantitative","scale":{"domain":[0.02,0.46],"range":[113,15],"nice":false,"zero":false},"axis":{"values":[0.02,0.46],"offset":7,"format":".2~f","title":["Recon.","error"],"titlePadding":-26}},"y2":{"field":"hi"},"color":{"field":"series","type":"nominal","scale":{"domain":["cond","neuron"],"range":["#2b7bba","#e8383d"]}}}},
  {"data":{"name":"curves"},"transform":[{"filter":"datum.panel=='a'"}],"mark":{"type":"line","strokeWidth":2.4},"encoding":{"x":{"field":"t","type":"quantitative"},"y":{"field":"m","type":"quantitative"},"color":{"field":"series","type":"nominal"}}},
  {"data":{"name":"labels"},"transform":[{"filter":"datum.panel=='a'"}],"mark":{"type":"text","align":"right","baseline":"middle","fontSize":15,"dy":-11},"encoding":{"x":{"datum":790},"y":{"datum":0.02},"text":{"field":"label"},"color":{"field":"series","type":"nominal"}}}]},
 {"width":124,"height":113,"layer":[
  {"data":{"name":"curves"},"transform":[{"filter":"datum.panel=='b'"}],"mark":{"type":"area","opacity":0.35},"encoding":{"x":{"field":"t","type":"quantitative","scale":{"domain":[10,790],"nice":false},"axis":{"values":[10,790],"offset":7,"title":null}},"y":{"field":"lo","type":"quantitative","scale":{"domain":[0.04,0.11],"range":[108,16],"nice":false,"zero":false},"axis":{"values":[0.04,0.11],"offset":7,"format":".2~f","title":null}},"y2":{"field":"hi"},"color":{"field":"series","type":"nominal","scale":{"domain":["cond","neuron"],"range":["#2b7bba","#e8383d"]}}}},
  {"data":{"name":"curves"},"transform":[{"filter":"datum.panel=='b'"}],"mark":{"type":"line","strokeWidth":2.4},"encoding":{"x":{"field":"t","type":"quantitative"},"y":{"field":"m","type":"quantitative"},"color":{"field":"series","type":"nominal"}}},
  {"data":{"name":"labels"},"transform":[{"filter":"datum.panel=='b'"}],"mark":{"type":"text","align":"right","baseline":"middle","fontSize":15,"dy":-5},"encoding":{"x":{"datum":790},"y":{"datum":0.04},"text":{"field":"label"},"color":{"field":"series","type":"nominal"}}}]},
 {"width":124,"height":113,"layer":[
  {"data":{"name":"curves"},"transform":[{"filter":"datum.panel=='c'"}],"mark":{"type":"area","opacity":0.35},"encoding":{"x":{"field":"t","type":"quantitative","scale":{"domain":[10,790],"nice":false},"axis":{"values":[10,790],"offset":7,"title":null}},"y":{"field":"lo","type":"quantitative","scale":{"domain":[0.03,0.11],"range":[111,18],"nice":false,"zero":false},"axis":{"values":[0.03,0.11],"offset":7,"format":".2~f","title":null}},"y2":{"field":"hi"},"color":{"field":"series","type":"nominal","scale":{"domain":["cond","neuron"],"range":["#2b7bba","#e8383d"]}}}},
  {"data":{"name":"curves"},"transform":[{"filter":"datum.panel=='c'"}],"mark":{"type":"line","strokeWidth":2.4},"encoding":{"x":{"field":"t","type":"quantitative"},"y":{"field":"m","type":"quantitative"},"color":{"field":"series","type":"nominal"}}},
  {"data":{"name":"labels"},"transform":[{"filter":"datum.panel=='c'"}],"mark":{"type":"text","align":"right","baseline":"middle","fontSize":15,"dy":-7},"encoding":{"x":{"datum":790},"y":{"datum":0.03},"text":{"field":"label"},"color":{"field":"series","type":"nominal"}}}]},
 {"width":124,"height":113,"layer":[
  {"data":{"name":"curves"},"transform":[{"filter":"datum.panel=='d'"}],"mark":{"type":"area","opacity":0.35},"encoding":{"x":{"field":"t","type":"quantitative","scale":{"domain":[10,790],"nice":false},"axis":{"values":[10,790],"offset":7,"title":"Timespan (ms)","titlePadding":-4,"titleFontSize":16}},"y":{"field":"lo","type":"quantitative","scale":{"domain":[0.01,0.41],"range":[114,17],"nice":false,"zero":false},"axis":{"values":[0.01,0.41],"offset":7,"format":".2~f","title":null}},"y2":{"field":"hi"},"color":{"field":"series","type":"nominal","scale":{"domain":["cond","neuron"],"range":["#2b7bba","#e8383d"]}}}},
  {"data":{"name":"curves"},"transform":[{"filter":"datum.panel=='d'"}],"mark":{"type":"line","strokeWidth":2.4},"encoding":{"x":{"field":"t","type":"quantitative"},"y":{"field":"m","type":"quantitative"},"color":{"field":"series","type":"nominal"}}},
  {"data":{"name":"labels"},"transform":[{"filter":"datum.panel=='d'"}],"mark":{"type":"text","align":"right","baseline":"middle","fontSize":15,"dy":-23},"encoding":{"x":{"datum":790},"y":{"datum":0.01},"text":{"field":"label"},"color":{"field":"series","type":"nominal"}}}]}
],"spacing":14}
]},
{"resolve":{"scale":{"color":"independent","stroke":"independent","strokeWidth":"independent","strokeDash":"independent","size":"independent","shape":"independent"}},"spacing":41,"hconcat":[
{"resolve":{"scale":{"color":"independent","stroke":"independent","strokeWidth":"independent","strokeDash":"independent","size":"independent","shape":"independent"}},"spacing":14,"hconcat":[
{"data":{"name":"diagram"},"transform":[{"filter":"datum.panel >= 'e'"}],
 "facet":{"row":{"field":"panel","type":"nominal","header":null}},"spacing":15,
 "spec":{"width":294,"height":140,"layer":[
  {"transform":[{"filter":"datum.type=='edge'"}],"mark":{"type":"rule"},"encoding":{
   "x":{"field":"x","type":"quantitative","scale":{"domain":[-0.743,3.38],"nice":false,"zero":false},"axis":null},
   "y":{"field":"y","type":"quantitative","scale":{"domain":[-0.535,1.437],"reverse":true,"nice":false,"zero":false},"axis":null},
   "x2":{"field":"x2"},"y2":{"field":"y2"},
   "color":{"condition":{"test":"datum.kind=='weak'","value":"#a3a3a3"},"value":"#111111"},
   "strokeWidth":{"condition":[{"test":"datum.kind=='strong'","value":2.2},{"test":"datum.kind=='weak'","value":1.3},{"test":"datum.kind=='fan'","value":0.8}],"value":1},
   "strokeDash":{"condition":{"test":"datum.kind=='weak'","value":[2,2.5]},"value":[1,0]}}},
  {"transform":[{"filter":"datum.type=='edge' && datum.head!='none'"}],"mark":{"type":"point","filled":false,"opacity":1},"encoding":{
   "x":{"field":"x2","type":"quantitative"},
   "y":{"field":"y2","type":"quantitative"},
   "shape":{"condition":{"test":"datum.head=='right'","value":"M-1,-1L0,0L-1,1"},"value":"M-1,-1L0,0L1,-1"},
   "stroke":{"condition":{"test":"datum.kind=='weak'","value":"#a3a3a3"},"value":"#111111"},
   "strokeWidth":{"condition":[{"test":"datum.kind=='strong'","value":2.2},{"test":"datum.kind=='weak'","value":1.2}],"value":1},
   "size":{"condition":[{"test":"datum.kind=='strong'","value":120},{"test":"datum.kind=='weak'","value":45}],"value":30}}},
  {"transform":[{"filter":"datum.type=='node'"}],"mark":{"type":"point","shape":"circle","size":1390,"filled":true,"fill":"white","opacity":1},"encoding":{
   "x":{"field":"col","type":"quantitative"},
   "y":{"field":"lev","type":"quantitative"},
   "stroke":{"condition":{"test":"datum.kind=='weak'","value":"#a3a3a3"},"value":"#1a1a1a"},
   "strokeWidth":{"condition":{"test":"datum.kind=='thick'","value":1.9},"value":1},
   "strokeDash":{"condition":{"test":"datum.kind=='weak'","value":[1.5,2]},"value":[1,0]}}},
  {"transform":[{"filter":"datum.type=='node'"}],"mark":{"type":"text","font":"Liberation Serif","fontStyle":"italic","fontSize":18,"align":"right","baseline":"middle","dx":1,"dy":-1},"encoding":{
   "x":{"field":"col","type":"quantitative"},"y":{"field":"lev","type":"quantitative"},"text":{"field":"sym"},"color":{"condition":{"test":"datum.kind=='weak'","value":"#a3a3a3"},"value":"#111111"}}},
  {"transform":[{"filter":"datum.type=='node'"}],"mark":{"type":"text","font":"Liberation Serif","fontSize":12,"align":"left","baseline":"middle","dx":1.5,"dy":4},"encoding":{
   "x":{"field":"col","type":"quantitative"},"y":{"field":"lev","type":"quantitative"},"text":{"field":"col","type":"nominal"},"color":{"condition":{"test":"datum.kind=='weak'","value":"#a3a3a3"},"value":"#111111"}}},
  {"transform":[{"filter":"datum.type=='title'"}],"mark":{"type":"text","fontSize":21,"fontWeight":"bold","align":"center","baseline":"alphabetic"},"encoding":{
   "x":{"datum":-0.406},"y":{"datum":-0.35},"text":{"field":"letter"}}},
  {"transform":[{"filter":"datum.type=='title'"}],"mark":{"type":"text","fontSize":13.2,"align":"left","baseline":"alphabetic"},"encoding":{
   "x":{"datum":0.056},"y":{"datum":-0.35},"text":{"field":"title"}}}
 ]}},
{"vconcat":[
 {"width":81,"height":134,"view":{"fill":"#eef1f4","stroke":"#9a9a9a","strokeDash":[4,3],"strokeWidth":1},"layer":[
  {"data":{"name":"traces"},"mark":{"type":"line","interpolate":"monotone","strokeWidth":1.6,"clip":true},"encoding":{"x":{"field":"t","type":"quantitative","axis":null,"scale":{"domain":[0,12],"nice":false,"reverse":true}},"y":{"field":"v","type":"quantitative","axis":null,"scale":{"domain":[-1.45,1.45],"nice":false}},"color":{"field":"tr","type":"nominal","scale":{"domain":["T1","T2","T3","T4","T5","T6","T7","T8","T9","T10","T11","T12","T13","T14"],"range":["#9e0142","#d53e4f","#e4572e","#f46d43","#fdae61","#fee08b","#f3eda0","#abdda4","#66c2a5","#3288bd","#5e4fa2","#b2182b","#fc8d59","#e6f598"]}}}},
  {"data":{"values":[{"label":"neuron 1"}]},"mark":{"type":"text","align":"right","baseline":"top","fontSize":12.5,"dx":-4,"dy":5},"encoding":{"x":{"datum":0},"y":{"datum":1.45},"text":{"field":"label"}}}]},
 {"width":81,"height":134,"view":{"fill":"#eef1f4","stroke":"#9a9a9a","strokeDash":[4,3],"strokeWidth":1},"layer":[
  {"data":{"name":"traces"},"mark":{"type":"line","interpolate":"monotone","strokeWidth":1.6,"clip":true},"encoding":{"x":{"field":"t","type":"quantitative","axis":null,"scale":{"domain":[0,12],"nice":false}},"y":{"field":"v","type":"quantitative","axis":null,"scale":{"domain":[-1.45,1.45],"nice":false,"reverse":true}},"color":{"field":"tr","type":"nominal","scale":{"domain":["T1","T2","T3","T4","T5","T6","T7","T8","T9","T10","T11","T12","T13","T14"],"range":["#9e0142","#d53e4f","#e4572e","#f46d43","#fdae61","#fee08b","#f3eda0","#abdda4","#66c2a5","#3288bd","#5e4fa2","#b2182b","#fc8d59","#e6f598"]}}}},
  {"data":{"values":[{"label":"neuron 1"}]},"mark":{"type":"text","align":"right","baseline":"top","fontSize":12.5,"dx":-4,"dy":5},"encoding":{"x":{"datum":12},"y":{"datum":-1.45},"text":{"field":"label"}}}]},
 {"width":81,"height":134,"view":{"fill":"#eef1f4","stroke":"#9a9a9a","strokeDash":[4,3],"strokeWidth":1},"layer":[
  {"data":{"name":"traces"},"mark":{"type":"line","interpolate":"monotone","strokeWidth":1.6,"clip":true},"encoding":{"x":{"field":"t","type":"quantitative","axis":null,"scale":{"domain":[0,12],"nice":false,"reverse":true}},"y":{"field":"v","type":"quantitative","axis":null,"scale":{"domain":[-1.45,1.45],"nice":false,"reverse":true}},"color":{"field":"tr","type":"nominal","scale":{"domain":["T1","T2","T3","T4","T5","T6","T7","T8","T9","T10","T11","T12","T13","T14"],"range":["#9e0142","#d53e4f","#e4572e","#f46d43","#fdae61","#fee08b","#f3eda0","#abdda4","#66c2a5","#3288bd","#5e4fa2","#b2182b","#fc8d59","#e6f598"]}}}},
  {"data":{"values":[{"label":"neuron 1"}]},"mark":{"type":"text","align":"right","baseline":"top","fontSize":12.5,"dx":-4,"dy":5},"encoding":{"x":{"datum":0},"y":{"datum":-1.45},"text":{"field":"label"}}}]},
 {"width":81,"height":134,"view":{"fill":"#eef1f4","stroke":"#9a9a9a","strokeDash":[4,3],"strokeWidth":1},"layer":[
  {"data":{"name":"traces"},"mark":{"type":"line","interpolate":"monotone","strokeWidth":1.6,"clip":true},"encoding":{"x":{"field":"t","type":"quantitative","axis":null,"scale":{"domain":[0,12],"nice":false}},"y":{"field":"v","type":"quantitative","axis":null,"scale":{"domain":[-1.45,1.45],"nice":false}},"color":{"field":"tr","type":"nominal","scale":{"domain":["T1","T2","T3","T4","T5","T6","T7","T8","T9","T10","T11","T12","T13","T14"],"range":["#9e0142","#d53e4f","#e4572e","#f46d43","#fdae61","#fee08b","#f3eda0","#abdda4","#66c2a5","#3288bd","#5e4fa2","#b2182b","#fc8d59","#e6f598"]}}}},
  {"data":{"values":[{"label":"neuron 1"}]},"mark":{"type":"text","align":"right","baseline":"top","fontSize":12.5,"dx":-4,"dy":5},"encoding":{"x":{"datum":12},"y":{"datum":1.45},"text":{"field":"label"}}}]}
],"spacing":21}
]},
{"vconcat":[
 {"width":124,"height":113,"layer":[
  {"data":{"name":"curves"},"transform":[{"filter":"datum.panel=='e'"}],"mark":{"type":"area","opacity":0.35},"encoding":{"x":{"field":"t","type":"quantitative","scale":{"domain":[10,790],"nice":false},"axis":{"values":[10,790],"offset":7,"title":null}},"y":{"field":"lo","type":"quantitative","scale":{"domain":[0,0.38],"range":[113,15],"nice":false,"zero":false},"axis":{"values":[0,0.38],"offset":7,"format":".2~f","title":["Recon.","error"],"titlePadding":-26}},"y2":{"field":"hi"},"color":{"field":"series","type":"nominal","scale":{"domain":["cond","neuron"],"range":["#2b7bba","#e8383d"]}}}},
  {"data":{"name":"curves"},"transform":[{"filter":"datum.panel=='e'"}],"mark":{"type":"line","strokeWidth":2.4},"encoding":{"x":{"field":"t","type":"quantitative"},"y":{"field":"m","type":"quantitative"},"color":{"field":"series","type":"nominal"}}},
  {"data":{"name":"labels"},"transform":[{"filter":"datum.panel=='e'"}],"mark":{"type":"text","align":"right","baseline":"middle","fontSize":15,"dy":-13},"encoding":{"x":{"datum":790},"y":{"datum":0},"text":{"field":"label"},"color":{"field":"series","type":"nominal"}}}]},
 {"width":124,"height":113,"layer":[
  {"data":{"name":"curves"},"transform":[{"filter":"datum.panel=='f'"}],"mark":{"type":"area","opacity":0.35},"encoding":{"x":{"field":"t","type":"quantitative","scale":{"domain":[10,790],"nice":false},"axis":{"values":[10,790],"offset":7,"title":null}},"y":{"field":"lo","type":"quantitative","scale":{"domain":[0.03,0.26],"range":[114,17],"nice":false,"zero":false},"axis":{"values":[0.03,0.26],"offset":7,"format":".2~f","title":null}},"y2":{"field":"hi"},"color":{"field":"series","type":"nominal","scale":{"domain":["cond","neuron"],"range":["#2b7bba","#e8383d"]}}}},
  {"data":{"name":"curves"},"transform":[{"filter":"datum.panel=='f'"}],"mark":{"type":"line","strokeWidth":2.4},"encoding":{"x":{"field":"t","type":"quantitative"},"y":{"field":"m","type":"quantitative"},"color":{"field":"series","type":"nominal"}}},
  {"data":{"name":"labels"},"transform":[{"filter":"datum.panel=='f'"}],"mark":{"type":"text","align":"right","baseline":"middle","fontSize":15,"dy":-15},"encoding":{"x":{"datum":790},"y":{"datum":0.03},"text":{"field":"label"},"color":{"field":"series","type":"nominal"}}}]},
 {"width":124,"height":113,"layer":[
  {"data":{"name":"curves"},"transform":[{"filter":"datum.panel=='g'"}],"mark":{"type":"area","opacity":0.35},"encoding":{"x":{"field":"t","type":"quantitative","scale":{"domain":[10,790],"nice":false},"axis":{"values":[10,790],"offset":7,"title":null}},"y":{"field":"lo","type":"quantitative","scale":{"domain":[0.02,0.2],"range":[115,18],"nice":false,"zero":false},"axis":{"values":[0.02,0.2],"offset":7,"format":".2~f","title":null}},"y2":{"field":"hi"},"color":{"field":"series","type":"nominal","scale":{"domain":["cond","neuron"],"range":["#2b7bba","#e8383d"]}}}},
  {"data":{"name":"curves"},"transform":[{"filter":"datum.panel=='g'"}],"mark":{"type":"line","strokeWidth":2.4},"encoding":{"x":{"field":"t","type":"quantitative"},"y":{"field":"m","type":"quantitative"},"color":{"field":"series","type":"nominal"}}},
  {"data":{"name":"labels"},"transform":[{"filter":"datum.panel=='g'"}],"mark":{"type":"text","align":"right","baseline":"middle","fontSize":15,"dy":-13},"encoding":{"x":{"datum":790},"y":{"datum":0.02},"text":{"field":"label"},"color":{"field":"series","type":"nominal"}}}]},
 {"width":124,"height":113,"layer":[
  {"data":{"name":"curves"},"transform":[{"filter":"datum.panel=='h'"}],"mark":{"type":"area","opacity":0.35},"encoding":{"x":{"field":"t","type":"quantitative","scale":{"domain":[10,790],"nice":false},"axis":{"values":[10,790],"offset":7,"title":"Timespan (ms)","titlePadding":-4,"titleFontSize":16}},"y":{"field":"lo","type":"quantitative","scale":{"domain":[0.01,0.41],"range":[113,17],"nice":false,"zero":false},"axis":{"values":[0.01,0.41],"offset":7,"format":".2~f","title":null}},"y2":{"field":"hi"},"color":{"field":"series","type":"nominal","scale":{"domain":["cond","neuron"],"range":["#2b7bba","#e8383d"]}}}},
  {"data":{"name":"curves"},"transform":[{"filter":"datum.panel=='h'"}],"mark":{"type":"line","strokeWidth":2.4},"encoding":{"x":{"field":"t","type":"quantitative"},"y":{"field":"m","type":"quantitative"},"color":{"field":"series","type":"nominal"}}},
  {"data":{"name":"labels"},"transform":[{"filter":"datum.panel=='h'"}],"mark":{"type":"text","align":"right","baseline":"middle","fontSize":15,"dy":-22},"encoding":{"x":{"datum":790},"y":{"datum":0.01},"text":{"field":"label"},"color":{"field":"series","type":"nominal"}}}]}
],"spacing":14}
]}
]
}
